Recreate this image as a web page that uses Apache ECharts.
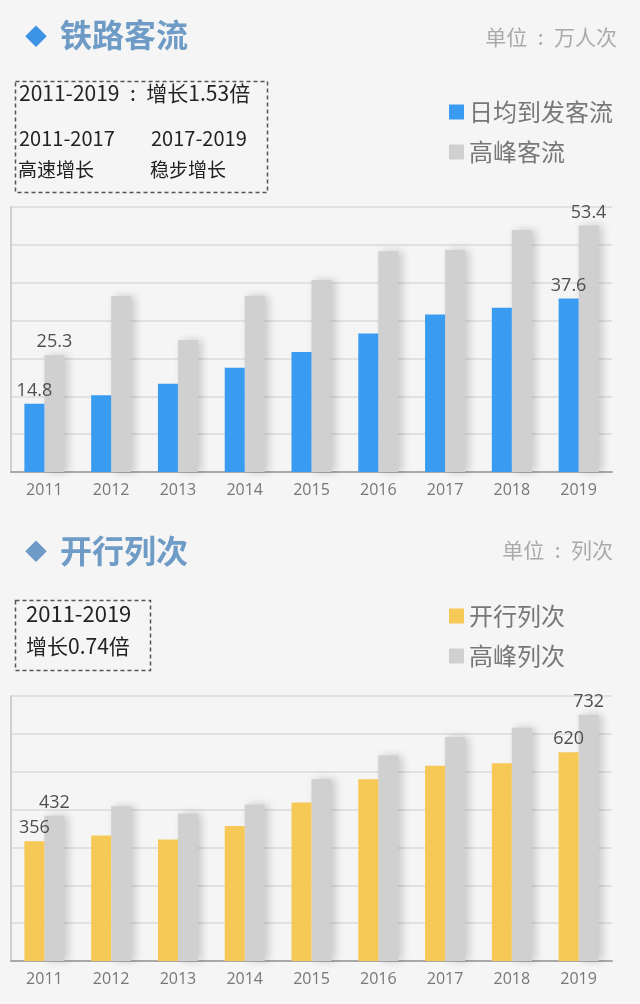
<!DOCTYPE html>
<html>
<head>
<meta charset="utf-8">
<script src="https://cdn.jsdelivr.net/npm/echarts@6/dist/echarts.min.js"></script>
<style>
html,body{margin:0;padding:0;background:#f5f5f5;}
#c{width:640px;height:1004px;}
</style>
</head>
<body>
<div id="c"></div>
<script>
const years = ['2011','2012','2013','2014','2015','2016','2017','2018','2019'];
const dailyFlow = [14.8, 16.6, 19.1, 22.6, 26.0, 30.0, 34.1, 35.6, 37.6];
const peakFlow = [25.3, 38.1, 28.6, 38.2, 41.6, 47.8, 48.1, 52.4, 53.4];
const trains = [356, 373, 361, 401, 471, 540, 580, 588, 620];
const peakTrains = [432, 460, 438, 465, 541, 611, 666, 693, 732];

const CJK = '"Noto Sans CJK SC", "Noto Sans", sans-serif';
const BLUE = '#3a9cf0', YELLOW = '#f6c957', GREY = '#d1d0d0';

function withEndLabels(arr) {
  return arr.map((v, i) => (i === 0 || i === arr.length - 1)
    ? { value: v, label: { show: true } } : v);
}

function barSeries(name, data, color, axis, shadow) {
  return {
    name: name, type: 'bar', xAxisIndex: axis, yAxisIndex: axis,
    data: withEndLabels(data), barWidth: 20, barGap: '0%',
    itemStyle: shadow ? { color: color, shadowColor: 'rgba(0,0,0,0.18)', shadowBlur: 8, shadowOffsetX: 4 } : { color: color },
    label: { show: false, position: 'top', distance: 4, color: '#4f4f4f', fontSize: 18, fontFamily: '"Open Sans", sans-serif' },
    z: shadow ? 1 : 2
  };
}

function xAx(gi) {
  return {
    type: 'category', gridIndex: gi, data: years,
    axisLine: { lineStyle: { color: '#a9a9a9', width: 2 } },
    axisTick: { show: false },
    axisLabel: { color: '#777', fontSize: 16, margin: 10, fontFamily: '"Open Sans", sans-serif' }
  };
}
function yAx(gi, max, interval) {
  return {
    type: 'value', gridIndex: gi, min: 0, max: max, interval: interval,
    axisLine: { show: true, lineStyle: { color: '#cfcfcf', width: 2 } },
    axisTick: { show: false }, axisLabel: { show: false },
    splitLine: { lineStyle: { color: '#e1e1e1', width: 2 } }
  };
}

function txt(x, y, text, size, color, extra) {
  return { type: 'text', left: x, top: y, style: Object.assign({ text: text, fontSize: size, fill: color, fontFamily: CJK }, extra || {}) };
}

const chart = echarts.init(document.getElementById('c'));
chart.setOption({
  backgroundColor: '#f5f5f5',
  animation: false,
  grid: [
    { left: 11, width: 601, top: 207, height: 265 },
    { left: 11, width: 601, top: 696, height: 265 }
  ],
  xAxis: [xAx(0), xAx(1)],
  yAxis: [yAx(0, 57.4, 8.2), yAx(1, 787.5, 112.5)],
  legend: [
    { data: ['日均到发客流', '高峰客流'], orient: 'vertical', left: 444, top: 95, itemWidth: 15, itemHeight: 15, itemGap: 16,
      textStyle: { color: '#777', fontSize: 24, fontFamily: CJK }, icon: 'rect' },
    { data: ['开行列次', '高峰列次'], orient: 'vertical', left: 444, top: 599, itemWidth: 15, itemHeight: 15, itemGap: 16,
      textStyle: { color: '#777', fontSize: 24, fontFamily: CJK }, icon: 'rect' }
  ],
  graphic: [
    txt(25, 25, '◆', 22, '#3d93e6'),
    txt(60, 19, '铁路客流', 32, '#6f9cc6', { fontWeight: 'bold' }),
    { type: 'text', right: 23, top: 27, style: { text: '单位\u2002:\u2002万人次', fontSize: 21, fill: '#aaa', fontFamily: CJK } },
    { type: 'rect', left: 13, top: 79, shape: { width: 252, height: 111 }, style: { fill: 'none', stroke: '#555', lineWidth: 1.5, lineDash: [4, 3] } },
    txt(19, 83, '2011-2019\u2002:\u2002增长1.53倍', 21, '#222'),
    txt(19, 128, '2011-2017', 20, '#222'),
    txt(151, 128, '2017-2019', 20, '#222'),
    txt(18, 160, '高速增长', 19, '#222'),
    txt(150, 160, '稳步增长', 19, '#222'),

    txt(25, 540, '◆', 22, '#6d9bc6'),
    txt(60, 535, '开行列次', 32, '#6f9cc6', { fontWeight: 'bold' }),
    { type: 'text', right: 27, top: 540, style: { text: '单位\u2002:\u2002列次', fontSize: 21, fill: '#aaa', fontFamily: CJK } },
    { type: 'rect', left: 13, top: 598, shape: { width: 135, height: 70 }, style: { fill: 'none', stroke: '#555', lineWidth: 1.5, lineDash: [4, 3] } },
    txt(26, 603, '2011-2019', 22, '#222'),
    txt(26, 636, '增长0.74倍', 21, '#222')
  ],
  series: [
    barSeries('日均到发客流', dailyFlow, BLUE, 0, false),
    barSeries('高峰客流', peakFlow, GREY, 0, true),
    barSeries('开行列次', trains, YELLOW, 1, false),
    barSeries('高峰列次', peakTrains, GREY, 1, true)
  ]
});
</script>
</body>
</html>
